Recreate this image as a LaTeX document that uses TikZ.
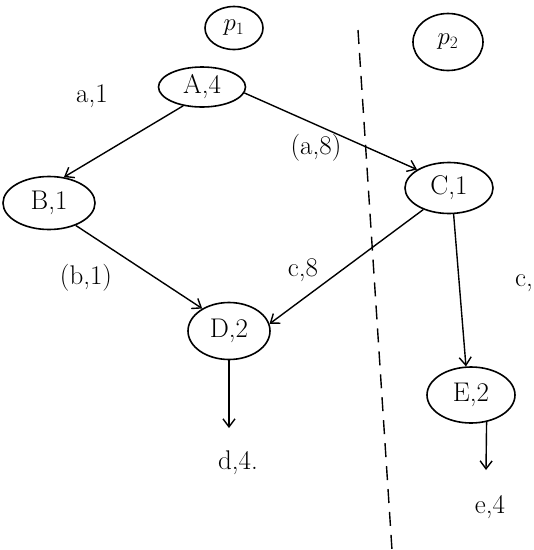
\documentclass[tikz,border=0pt]{standalone}
\usepackage{fontspec}
\setmainfont{Latin Modern Roman}
\usetikzlibrary{shapes.geometric,arrows.meta}
\begin{document}
\begin{tikzpicture}[x=1pt,y=-1pt,
  st/.style={draw,ellipse,line width=1.6pt,inner sep=0pt,font=\fontsize{27}{30}\selectfont},
  lab/.style={font=\fontsize{27}{30}\selectfont},
  edge/.style={line width=1.4pt,-{Straight Barb[length=8pt,width=12pt]}}]
\useasboundingbox (0,0) rectangle (534,550);
\node[st,minimum width=58pt,minimum height=43pt] (p1) at (234,28) {$p_1$};
\node[st,minimum width=70pt,minimum height=57pt] (p2) at (448,42) {$p_2$};
\node[st,minimum width=87pt,minimum height=40pt] (A) at (202,87) {A,4};
\node[st,minimum width=92pt,minimum height=53pt] (B) at (49,203) {B,1};
\node[st,minimum width=88pt,minimum height=51pt] (C) at (449,188) {C,1};
\node[st,minimum width=82pt,minimum height=57pt] (D) at (229,331) {D,2};
\node[st,minimum width=88pt,minimum height=56pt] (E) at (471,395) {E,2};
\coordinate (dend) at (229,428);
\coordinate (eend) at (486,470);
\coordinate (dtop) at (358,30);
\coordinate (dbot) at (392,550);
\draw[line width=1.4pt,dash pattern=on 14pt off 9pt] (dtop) -- (dbot);
\draw[edge] (A.225) -- (B.60);
\draw[edge] (A.-8) -- (C.150);
\draw[edge] (B.-40) -- (D.140);
\draw[edge] (C.220) -- (D.10);
\draw[edge] (C.-80) -- (E.100);
\draw[edge] (D.south) -- (dend);
\draw[edge] (E.-60) -- (eend);
\node[lab] (l1) at (92,96) {a,1};
\node[lab] (l2) at (316,148) {(a,8)};
\node[lab] (l3) at (86,278) {(b,1)};
\node[lab] (l4) at (303,270) {c,8};
\node[lab] (l5) at (524,283) {c,};
\node[lab] (l6) at (238,463) {d,4.};
\node[lab] (l7) at (490,507) {e,4};
\end{tikzpicture}
\end{document}
